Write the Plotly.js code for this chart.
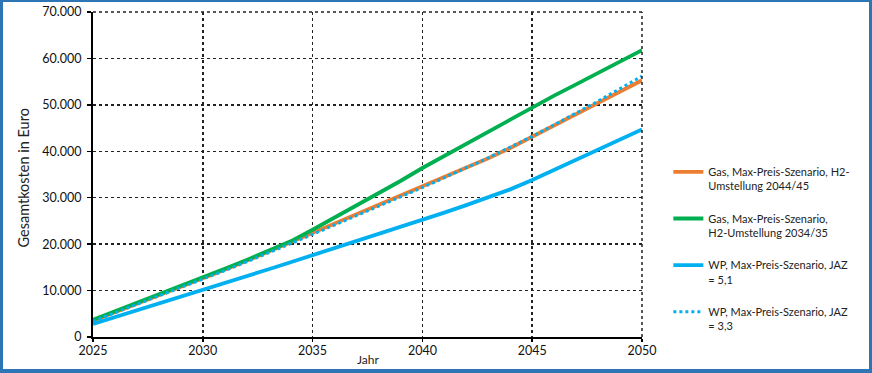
<!DOCTYPE html>
<html>
<head>
<meta charset="utf-8">
<script src="https://cdn.plot.ly/plotly-3.0.1.min.js"></script>
<style>
html,body{margin:0;padding:0;background:#fff;}
#frame{width:872px;height:373px;box-sizing:border-box;border:3px solid #2E75B6;border-top-width:2px;border-bottom-width:4px;position:relative;overflow:hidden;}
#chart{position:absolute;left:-3px;top:-2px;width:872px;height:373px;}
</style>
</head>
<body>
<div id="frame"><div id="chart"></div></div>
<script>
const years = [2025,2026,2027,2028,2029,2030,2031,2032,2033,2034,2035,2036,2037,2038,2039,2040,2041,2042,2043,2044,2045,2046,2047,2048,2049,2050];
const gasH2_2044 = [3500,5300,7100,8900,10700,12600,14500,16400,18400,20400,22400,24400,26400,28400,30400,32400,34400,36400,38500,40700,43100,45500,47900,50400,52800,55300];
const gasH2_2034 = [3700,5500,7300,9100,10900,12800,14700,16600,18600,20600,23100,25700,28300,30900,33600,36400,39000,41600,44300,46900,49500,52000,54400,56900,59300,61800];
const wpJaz51 = [2800,4250,5700,7150,8600,10100,11600,13100,14600,16100,17600,19100,20600,22100,23600,25200,26800,28400,30000,31800,33800,36000,38200,40400,42600,44700];
const wpJaz33 = [3400,5200,7000,8800,10600,12400,14300,16200,18100,20100,22100,24100,26100,28100,30100,32200,34300,36400,38600,40900,43200,45700,48200,50800,53500,56200];
const names = [
  "Gas, Max-Preis-Szenario, H2-<br>Umstellung 2044/45",
  "Gas, Max-Preis-Szenario,<br>H2-Umstellung 2034/35",
  "WP, Max-Preis-Szenario, JAZ<br>= 5,1",
  "WP, Max-Preis-Szenario, JAZ<br>= 3,3"
];
const xTicks = [2025,2030,2035,2040,2045,2050];
const yTicks = [0,10000,20000,30000,40000,50000,60000,70000];
const xTitle = 'Jahr';
const yTitle = 'Gesamtkosten in Euro';

const traces = [
  {x:years,y:gasH2_2044,name:names[0],legendgroup:'a',mode:'lines',line:{color:'#ED7D31',width:3.8}},
  {x:years,y:gasH2_2034,name:names[1],legendgroup:'b',mode:'lines',line:{color:'#00B050',width:3.8}},
  {x:years,y:wpJaz51,name:names[2],legendgroup:'c',mode:'lines',line:{color:'#00B0F0',width:3.8}},
  {x:years,y:wpJaz33,name:names[3],legendgroup:'d',mode:'lines',line:{color:'#00B0F0',width:3,dash:'dot'}}
];

const layout = {
  width:872,height:373,
  margin:{l:93,r:230,t:12,b:36},
  paper_bgcolor:'#ffffff',plot_bgcolor:'#ffffff',
  separators:',.',
  font:{family:'Lato, sans-serif',size:12,color:'#222'},
  showlegend:true,
  legend:{x:1.048,xanchor:'left',xref:'paper',y:0.55,yanchor:'top',
    font:{size:11,color:'#222'},valign:'top',tracegroupgap:15,
    traceorder:'grouped',bgcolor:'rgba(0,0,0,0)',itemwidth:30},
  xaxis:{range:[2025,2050],tickvals:xTicks,ticktext:xTicks.map(String),
    showgrid:true,gridcolor:'#222',griddash:'dot',gridwidth:1.5,
    showline:true,linecolor:'#000',linewidth:2,ticks:'outside',ticklen:3,tickwidth:1.5,tickcolor:'#000',
    ticklabelstandoff:-2,zeroline:false,tickfont:{size:12.5,color:'#111'}},
  yaxis:{range:[0,70000],tickvals:yTicks,tickformat:',d',
    showgrid:true,gridcolor:'#222',griddash:'dot',gridwidth:1.5,
    showline:true,linecolor:'#000',linewidth:2,ticks:'outside',ticklen:4,tickwidth:1.5,tickcolor:'#000',
    ticklabelstandoff:3,zeroline:false,tickfont:{size:12.5,color:'#111'}},
  annotations:[
    {text:xTitle,xref:'paper',yref:'paper',x:0.5,y:0,yshift:-22,xanchor:'center',yanchor:'middle',showarrow:false,font:{size:12,color:'#222'}},
    {text:yTitle,xref:'paper',yref:'paper',x:0,xshift:-70,y:0.5,yshift:-4,xanchor:'center',yanchor:'middle',textangle:-90,showarrow:false,font:{size:14.5,color:'#222'}}
  ],
  shapes:[
    {type:'line',xref:'paper',yref:'paper',x0:1,x1:1,y0:0,y1:1,line:{color:'#222',width:1.5,dash:'dot'}},
    {type:'line',xref:'paper',yref:'paper',x0:0,x1:1,y0:1,y1:1,line:{color:'#222',width:1.5,dash:'dot'}}
  ]
};
Plotly.newPlot('chart',traces,layout,{displayModeBar:false,staticPlot:true});
</script>
</body>
</html>
